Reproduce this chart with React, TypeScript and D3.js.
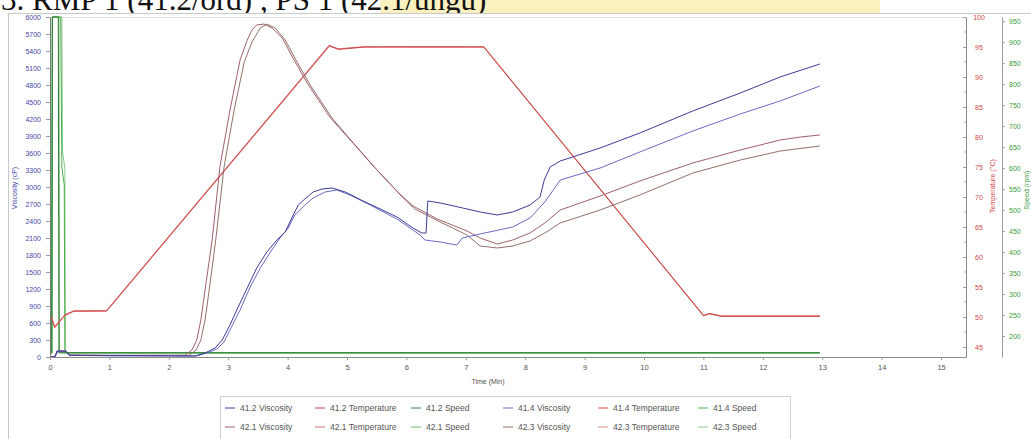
import { useEffect, useRef } from "react";
import * as d3 from "d3";

type Pt = [number, number];

// axis ticks
const timeTicks = d3.range(0, 16);
const viscTicks = d3.range(0, 6001, 300);
const tempTicks = d3.range(45, 101, 5);
const speedTicks = d3.range(200, 951, 50);

// viscosity (cP) vs time (min)
const visc412: Pt[] = [
  [0, 0], [0.08, 0], [0.12, 106], [0.27, 106], [0.32, 30], [1.0, 25], [2.0, 20], [2.44, 18],
  [2.61, 70], [2.78, 159], [2.9, 300], [3.03, 565], [3.16, 865], [3.32, 1218], [3.48, 1571],
  [3.65, 1853], [3.82, 2065], [3.96, 2206], [4.07, 2453], [4.18, 2682], [4.29, 2788],
  [4.43, 2912], [4.58, 2965], [4.75, 2982], [4.97, 2912], [5.27, 2753], [5.56, 2612],
  [5.84, 2471], [6.11, 2276], [6.26, 2188], [6.33, 2188], [6.36, 2753], [6.57, 2718],
  [6.95, 2629], [7.24, 2559], [7.53, 2506], [7.79, 2559], [8.08, 2682], [8.25, 2824],
  [8.32, 3124], [8.42, 3353], [8.59, 3459], [9.26, 3688], [9.93, 3953], [10.82, 4341],
  [11.62, 4659], [12.29, 4941], [12.96, 5171],
];
const visc414: Pt[] = [
  [0, 0], [0.08, 0], [0.13, 100], [0.27, 100], [0.33, 28], [1.0, 22], [2.0, 20], [2.47, 18],
  [2.64, 70], [2.81, 141], [2.93, 265], [3.03, 476], [3.2, 829], [3.37, 1235], [3.54, 1571],
  [3.7, 1835], [3.87, 2100], [4.01, 2276], [4.12, 2506], [4.29, 2682], [4.43, 2806],
  [4.63, 2912], [4.83, 2947], [5.05, 2859], [5.39, 2682], [5.84, 2435], [6.11, 2241],
  [6.23, 2153], [6.31, 2065], [6.57, 2029], [6.85, 1976], [6.94, 2100], [7.24, 2171],
  [7.79, 2294], [8.08, 2453], [8.33, 2735], [8.59, 3124], [9.26, 3335], [9.93, 3618],
  [10.82, 3988], [11.62, 4288], [12.29, 4518], [12.96, 4782],
];
const visc421: Pt[] = [
  [0, 0], [0.08, 0], [0.12, 106], [0.27, 106], [0.32, 35], [1.0, 30], [2.27, 30],
  [2.39, 124], [2.47, 300], [2.54, 653], [2.61, 1182], [2.73, 2065], [2.86, 3353],
  [3.03, 4359], [3.2, 5241], [3.32, 5594], [3.4, 5771], [3.48, 5859], [3.6, 5876],
  [3.74, 5806], [3.91, 5629], [4.09, 5276], [4.33, 4835], [4.71, 4235], [5.1, 3776],
  [5.44, 3371], [5.89, 2876], [6.11, 2665], [6.52, 2435], [7.02, 2224], [7.24, 2100],
  [7.53, 1994], [7.79, 2065], [8.08, 2188], [8.33, 2365], [8.59, 2594], [9.26, 2841],
  [9.93, 3106], [10.82, 3424], [11.62, 3653], [12.29, 3829], [12.63, 3882], [12.96, 3918],
];
const visc423: Pt[] = [
  [0, 0], [0.08, 0], [0.13, 95], [0.27, 95], [0.33, 32], [1.0, 28], [2.34, 30],
  [2.46, 124], [2.54, 300], [2.61, 653], [2.68, 1182], [2.79, 2065], [2.93, 3353],
  [3.1, 4359], [3.27, 5206], [3.4, 5559], [3.54, 5806], [3.65, 5876], [3.79, 5806],
  [3.96, 5594], [4.14, 5241], [4.38, 4800], [4.76, 4200], [5.15, 3724], [5.49, 3318],
  [5.93, 2824], [6.14, 2612], [6.57, 2382], [7.02, 2153], [7.24, 1959], [7.53, 1924],
  [7.79, 1959], [8.08, 2047], [8.33, 2188], [8.59, 2365], [9.26, 2594], [9.93, 2859],
  [10.82, 3247], [11.62, 3476], [12.29, 3635], [12.96, 3724],
];

// temperature (°C) vs time (min)
const temp412: Pt[] = [
  [0, 50.5], [0.08, 48.2], [0.25, 50.3], [0.4, 51], [0.95, 51], [4.7, 95.3], [4.85, 94.6],
  [5.3, 95], [7.3, 95], [11.0, 50.2], [11.1, 50.6], [11.3, 50.1], [12.96, 50.1],
];
const temp414: Pt[] = [
  [0, 50.3], [0.08, 48.4], [0.25, 50.4], [0.4, 51], [0.96, 51], [4.71, 95.2], [4.86, 94.7],
  [5.3, 95], [7.31, 95], [11.01, 50.2], [11.1, 50.5], [11.3, 50.2], [12.96, 50.2],
];
const temp421: Pt[] = [
  [0, 50.6], [0.08, 48.3], [0.25, 50.2], [0.4, 50.9], [0.95, 51], [4.7, 95.1], [4.85, 94.7],
  [5.3, 95.1], [7.3, 95], [11.0, 50.3], [11.1, 50.5], [11.3, 50.1], [12.96, 50.1],
];
const temp423: Pt[] = [
  [0, 50.4], [0.08, 48.5], [0.25, 50.3], [0.4, 51], [0.95, 51.1], [4.7, 95.2], [4.85, 94.6],
  [5.3, 95], [7.3, 95.1], [11.0, 50.2], [11.1, 50.6], [11.3, 50.2], [12.96, 50.2],
];

// paddle speed (rpm) vs time (min)
const speed412: Pt[] = [[0, 160], [0.03, 160], [0.04, 960], [0.14, 960], [0.15, 160], [12.96, 160]];
const speed414: Pt[] = [[0, 160], [0.03, 160], [0.04, 960], [0.18, 960], [0.2, 600], [0.24, 560], [0.25, 160], [12.96, 160]];
const speed421: Pt[] = [[0, 160], [0.03, 160], [0.04, 960], [0.15, 960], [0.16, 160], [12.96, 160]];
const speed423: Pt[] = [[0, 160], [0.03, 160], [0.04, 960], [0.2, 960], [0.21, 640], [0.25, 600], [0.26, 160], [12.96, 160]];

const legendRow1 = ["41.2 Viscosity", "41.2 Temperature", "41.2 Speed", "41.4 Viscosity", "41.4 Temperature", "41.4 Speed"];
const legendRow2 = ["42.1 Viscosity", "42.1 Temperature", "42.1 Speed", "42.3 Viscosity", "42.3 Temperature", "42.3 Speed"];

const colors: { [k: string]: string } = {
  "41.2 Viscosity": "#3c3c96",
  "41.4 Viscosity": "#6a6ac4",
  "42.1 Viscosity": "#a0606a",
  "42.3 Viscosity": "#94706a",
  "41.2 Temperature": "#c8383a",
  "41.4 Temperature": "#d85050",
  "42.1 Temperature": "#d07070",
  "42.3 Temperature": "#e08a7a",
  "41.2 Speed": "#2e7d32",
  "41.4 Speed": "#4caf50",
  "42.1 Speed": "#6bbf6f",
  "42.3 Speed": "#8acb8a",
};

export default function App() {
  const svgRef = useRef<SVGSVGElement>(null);

  useEffect(() => {
    if (!svgRef.current) return;
    d3.select(svgRef.current).selectAll("*").remove();
    const svg = d3.select(svgRef.current);
    const font = "Liberation Sans, Arial, sans-serif";
    const fmt = d3.format("d");

    const x = d3.scaleLinear().domain([0, 15.42]).range([50, 966]);
    const yV = d3.scaleLinear().domain([0, 6000]).range([357, 17]);
    const yT = d3.scaleLinear().domain([43.33, 100]).range([357, 17]);
    const yS = d3.scaleLinear().domain([150, 960]).range([357, 17]);

    // page header (cut off at top) with highlight
    svg.append("rect").attr("x", 380).attr("y", 0).attr("width", 500).attr("height", 13).attr("fill", "#fbf1bf");
    svg
      .append("text")
      .attr("x", 1)
      .attr("y", 10)
      .attr("font-family", "Liberation Serif, Times New Roman, serif")
      .attr("font-size", 31)
      .attr("fill", "#111")
      .text("3. RMP 1 (41.2/ord) , PS 1 (42.1/ungu)");

    // chart frame
    svg
      .append("rect")
      .attr("x", 8.5)
      .attr("y", 13.5)
      .attr("width", 1040)
      .attr("height", 440)
      .attr("fill", "#fff")
      .attr("stroke", "#c9c9c9");
    svg
      .append("rect")
      .attr("x", 50.5)
      .attr("y", 17.5)
      .attr("width", 916)
      .attr("height", 340)
      .attr("fill", "none")
      .attr("stroke", "#e2e2e2");

    svg
      .append("defs")
      .append("clipPath")
      .attr("id", "plot-clip")
      .append("rect")
      .attr("x", 50)
      .attr("y", 15)
      .attr("width", 916)
      .attr("height", 344);

    const plot = svg.append("g").attr("clip-path", "url(#plot-clip)");

    const drawLine = (pts: Pt[], yScale: d3.ScaleLinear<number, number>, color: string, w = 1) => {
      const line = d3
        .line<Pt>()
        .x((d) => x(d[0]))
        .y((d) => yScale(d[1]));
      plot
        .append("path")
        .datum(pts)
        .attr("d", line)
        .attr("fill", "none")
        .attr("stroke", color)
        .attr("stroke-width", w)
        .attr("stroke-linejoin", "round");
    };

    drawLine(speed423, yS, colors["42.3 Speed"]);
    drawLine(speed421, yS, colors["42.1 Speed"]);
    drawLine(speed414, yS, colors["41.4 Speed"]);
    drawLine(speed412, yS, colors["41.2 Speed"]);

    drawLine(temp423, yT, colors["42.3 Temperature"], 0.6);
    drawLine(temp421, yT, colors["42.1 Temperature"], 0.6);
    drawLine(temp414, yT, colors["41.4 Temperature"], 0.6);
    drawLine(temp412, yT, colors["41.2 Temperature"], 0.8);

    drawLine(visc423, yV, colors["42.3 Viscosity"]);
    drawLine(visc421, yV, colors["42.1 Viscosity"]);
    drawLine(visc414, yV, colors["41.4 Viscosity"]);
    drawLine(visc412, yV, colors["41.2 Viscosity"]);

    // X axis
    const gx = svg
      .append("g")
      .attr("transform", "translate(0,357)")
      .call(d3.axisBottom(x).tickValues(timeTicks).tickFormat(fmt).tickSize(3).tickPadding(5).tickSizeOuter(0));
    gx.select(".domain").attr("stroke", "#8a8a8a");
    gx.selectAll(".tick line").attr("stroke", "#9a9a9a");
    gx.selectAll("text").attr("fill", "#555").style("font-size", "7.5px").style("font-family", font);

    svg
      .append("text")
      .attr("x", 488)
      .attr("y", 384)
      .attr("text-anchor", "middle")
      .attr("fill", "#555")
      .style("font-size", "7px")
      .style("font-family", font)
      .text("Time (Min)");

    // left viscosity axis
    const gl = svg
      .append("g")
      .attr("transform", "translate(50,0)")
      .call(d3.axisLeft(yV).tickValues(viscTicks).tickFormat(fmt).tickSize(4).tickPadding(5).tickSizeOuter(0));
    gl.select(".domain").attr("stroke", "#7a7a7a");
    gl.selectAll(".tick line").attr("stroke", "#9a9ab8");
    gl.selectAll("text").attr("fill", "#4646a8").style("font-size", "7px").style("font-family", font);

    svg
      .append("text")
      .attr("transform", "translate(17,188) rotate(-90)")
      .attr("text-anchor", "middle")
      .attr("fill", "#4646a8")
      .style("font-size", "7px")
      .style("font-family", font)
      .text("Viscosity (cP)");

    // right temperature axis
    const gt = svg
      .append("g")
      .attr("transform", "translate(966,0)")
      .call(d3.axisRight(yT).tickValues(tempTicks).tickFormat(fmt).tickSize(-3).tickPadding(0).tickSizeOuter(0));
    gt.select(".domain").attr("stroke", "#8a8a8a");
    gt.selectAll(".tick line").attr("stroke", "#a0a0a0");
    gt.selectAll("text")
      .attr("x", 13)
      .attr("text-anchor", "middle")
      .attr("fill", "#d04646")
      .style("font-size", "7px")
      .style("font-family", font);
    gt.selectAll(".minor")
      .data(tempTicks.slice(0, -1).map((v) => v + 2.5))
      .enter()
      .append("line")
      .attr("x1", -2)
      .attr("x2", 0)
      .attr("y1", (d) => yT(d))
      .attr("y2", (d) => yT(d))
      .attr("stroke", "#b0b0b0");

    svg
      .append("text")
      .attr("transform", "translate(995,186) rotate(-90)")
      .attr("text-anchor", "middle")
      .attr("fill", "#d04646")
      .style("font-size", "7px")
      .style("font-family", font)
      .text("Temperature (°C)");

    // right speed axis
    const gs = svg
      .append("g")
      .attr("transform", "translate(1002,0)")
      .call(d3.axisRight(yS).tickValues(speedTicks).tickFormat(fmt).tickSize(3).tickPadding(4).tickSizeOuter(0));
    gs.select(".domain").attr("stroke", "#9a9a9a");
    gs.selectAll(".tick line").attr("stroke", "#a0a0a0");
    gs.selectAll("text").attr("fill", "#3a9a3a").style("font-size", "7px").style("font-family", font);

    svg
      .append("text")
      .attr("transform", "translate(1029,190) rotate(-90)")
      .attr("text-anchor", "middle")
      .attr("fill", "#3a9a3a")
      .style("font-size", "7px")
      .style("font-family", font)
      .text("Speed (rpm)");

    // legend
    const lg = svg.append("g");
    lg.append("rect")
      .attr("x", 220.5)
      .attr("y", 396.5)
      .attr("width", 570)
      .attr("height", 50)
      .attr("fill", "#fff")
      .attr("stroke", "#cfcfcf");
    const colX = [225, 315, 411, 503, 598, 698];
    [legendRow1, legendRow2].forEach((row, r) => {
      const yy = 408 + r * 19;
      row.forEach((name, i) => {
        lg.append("line")
          .attr("x1", colX[i])
          .attr("x2", colX[i] + 10)
          .attr("y1", yy)
          .attr("y2", yy)
          .attr("stroke", colors[name])
          .attr("stroke-width", 1);
        lg.append("text")
          .attr("x", colX[i] + 15)
          .attr("y", yy + 3)
          .attr("fill", "#555")
          .style("font-size", "8.5px")
          .style("font-family", font)
          .text(name);
      });
    });
  }, []);

  return (
    <svg
      ref={svgRef}
      width={1031}
      height={439}
      style={{ position: "absolute", left: 0, top: 0, background: "#fff" }}
    />
  );
}
